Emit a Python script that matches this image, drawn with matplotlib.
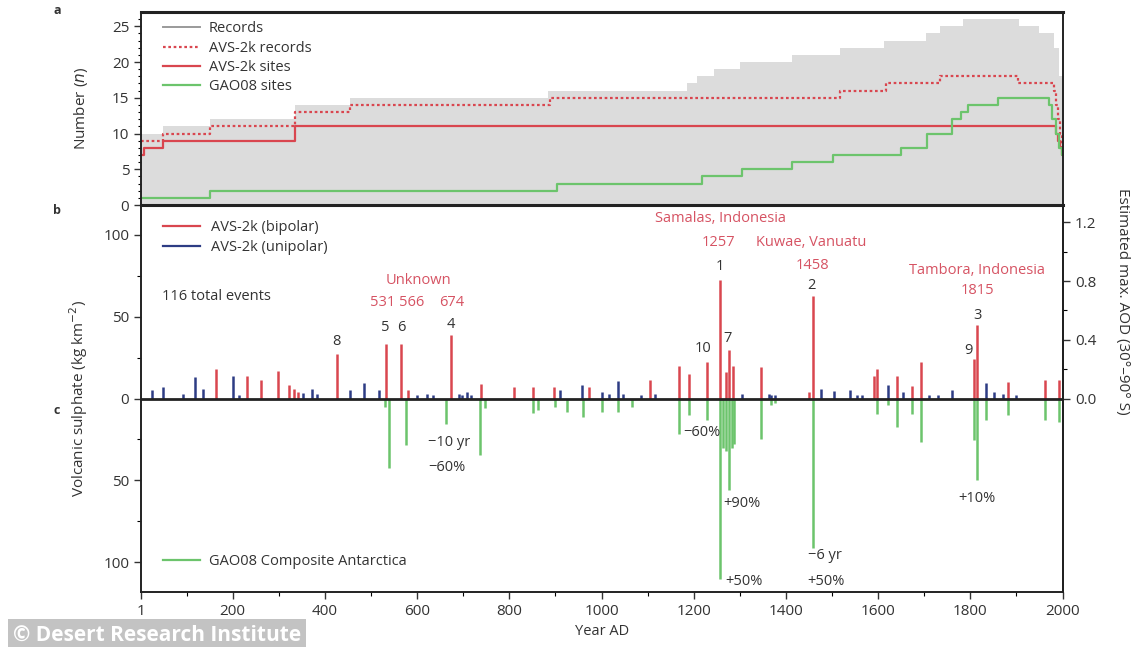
import matplotlib
matplotlib.use("Agg")
import matplotlib.pyplot as plt
from matplotlib.lines import Line2D
from matplotlib.ticker import FuncFormatter

plt.rcParams['font.family'] = ['Open Sans', 'DejaVu Sans']

RED = '#d9464f'
RED_TXT = '#d65363'
BLUE = '#2d3c84'
GREEN = '#6cc46c'
GREY_FILL = '#dcdcdc'
TXT = '#333333'

# ---------------- panel a: number of records / sites (change years, counts)
rec_years = [1, 49, 151, 335, 455, 884, 1186, 1208, 1243, 1300, 1414, 1518, 1612,
             1703, 1735, 1783, 1905, 1948, 1981, 1993]
rec_n = [10, 11, 12, 14, 15, 16, 17, 18, 19, 20, 21, 22, 23, 24, 25, 26, 25, 24, 22, 18]

avs_rec_years = [1, 49, 151, 335, 455, 888, 1518, 1616, 1735, 1903, 1981, 1986, 1990, 1994, 1998]
avs_rec_n = [9, 10, 11, 13, 14, 15, 16, 17, 18, 17, 16, 14, 12, 10, 8]

avs_site_years = [1, 8, 49, 335, 1985, 1990, 1995, 1998]
avs_site_n = [7, 8, 9, 11, 10, 9, 8, 7]

gao_site_years = [1, 151, 904, 1218, 1305, 1414, 1503, 1649, 1707, 1761, 1779, 1796,
                  1859, 1970, 1978, 1985, 1992, 1998]
gao_site_n = [1, 2, 3, 4, 5, 6, 7, 8, 10, 12, 13, 14, 15, 14, 12, 10, 8, 7]

# ---------------- panel b: AVS-2k sulphate deposition (kg km-2)
bipolar_years = [164, 232, 261, 299, 322, 332, 342, 427, 532, 566, 580, 674, 738, 810,
                 851, 896, 972, 1106, 1167, 1189, 1229, 1257, 1269, 1276, 1285, 1345,
                 1450, 1458, 1592, 1598, 1641, 1674, 1694, 1808, 1815, 1881, 1963, 1992]
bipolar_flux = [18, 14, 11.5, 16.5, 8, 6, 4, 27, 33.5, 33.5, 5, 38.7, 9, 7,
                7, 7, 7, 11.5, 19.8, 15, 22.3, 72.4, 16, 29.4, 20, 19,
                4, 62.6, 14, 18, 14, 7.4, 22, 24, 44.8, 10, 11, 11]

unipolar_years = [24, 49, 92, 118, 135, 200, 214, 352, 371, 382, 455, 485, 518, 599,
                  621, 634, 690, 698, 708, 716, 910, 957, 1001, 1016, 1036, 1046, 1085,
                  1116, 1305, 1364, 1367, 1376, 1476, 1504, 1540, 1555, 1565, 1621, 1655,
                  1710, 1730, 1760, 1835, 1852, 1870, 1900]
unipolar_flux = [5, 7, 3, 13, 6, 14, 2, 3.5, 6, 2.5, 5, 9.4, 5, 2,
                 2.5, 2, 3, 2, 4, 2, 5, 8, 4, 3, 10.6, 3, 2,
                 3, 3, 3, 2, 2, 6, 4.5, 5, 2, 2, 8, 4,
                 2, 2, 5, 9.6, 4, 3, 2]

# ---------------- panel c: GAO08 composite Antarctica (kg km-2, drawn downward)
gao_years = [531, 540, 576, 663, 737, 747, 851, 862, 898, 926, 960, 1001, 1036, 1065,
             1167, 1189, 1229, 1258, 1264, 1270, 1276, 1282, 1287, 1345, 1367, 1376,
             1458, 1598, 1621, 1641, 1674, 1694, 1808, 1815, 1835, 1881, 1963, 1992]
gao_flux = [5, 42.6, 28.5, 15.5, 34.5, 6, 9, 7, 5, 8, 11, 8, 8, 5,
            21.4, 10, 13, 110, 30, 32, 56, 30, 28, 24.4, 4, 3,
            91, 9.3, 4, 17.4, 9.3, 26.5, 25.5, 49.7, 13.3, 10.3, 13.3, 14.3]

AOD_PER_FLUX = 1 / 89.5

W, H = 1134, 647
fig = plt.figure(figsize=(W / 100, H / 100), dpi=100)


def px_axes(x0, y0, x1, y1):
    return fig.add_axes([x0 / W, 1 - y1 / H, (x1 - x0) / W, (y1 - y0) / H])


axa = px_axes(141, 12, 1063, 205)
axb = px_axes(141, 205, 1063, 592)

XMIN, XMAX = 1, 2001


def steps(years, vals):
    return list(years) + [2000], list(vals) + [vals[-1]]


# ---- panel a
rx, ry = steps(rec_years, rec_n)
axa.fill_between(rx, 0, ry, step='post', color=GREY_FILL, lw=0)
ax_, ay_ = steps(avs_rec_years, avs_rec_n)
axa.step(ax_, ay_, where='post', color=RED, lw=1.6, ls=(0, (1.2, 1.2)))
sx, sy = steps(avs_site_years, avs_site_n)
axa.step(sx, sy, where='post', color=RED, lw=1.6)
gx, gy = steps(gao_site_years, gao_site_n)
axa.step(gx, gy, where='post', color=GREEN, lw=1.6)

axa.set_xlim(XMIN, XMAX)
axa.set_ylim(0, 27)
axa.set_yticks(range(0, 26, 5))
axa.set_yticks(range(0, 27), minor=True)
axa.tick_params(axis='x', bottom=False, labelbottom=False)
axa.tick_params(axis='y', labelsize=11, length=5, width=1, colors=TXT, labelcolor=TXT)
axa.tick_params(axis='y', which='minor', length=2.5, width=0.8)
for s in axa.spines.values():
    s.set_linewidth(1.4)
    s.set_color('#222222')
axa.spines['top'].set_linewidth(2.2)
axa.set_ylabel('Number ($n$)', fontsize=11, color=TXT)
axa.yaxis.set_label_coords(-0.055, 0.5)

leg_a = [Line2D([], [], color='#9a9a9a', lw=1.4),
         Line2D([], [], color=RED, lw=1.6, ls=(0, (1.2, 1.2))),
         Line2D([], [], color=RED, lw=1.6),
         Line2D([], [], color=GREEN, lw=1.6)]
axa.legend(leg_a, ['Records', 'AVS-2k records', 'AVS-2k sites', 'GAO08 sites'],
           loc='upper left', bbox_to_anchor=(0.01, 1.02), frameon=False,
           fontsize=10.5, handlelength=2.5, handletextpad=0.6, labelspacing=0.3,
           labelcolor=TXT)

# ---- panels b and c
axb.vlines(unipolar_years, 0, unipolar_flux, color=BLUE, lw=1.8)
axb.vlines(bipolar_years, 0, bipolar_flux, color=RED, lw=1.8)
axb.vlines(gao_years, 0, [-v for v in gao_flux], color=GREEN, lw=1.8)
axb.axhline(0, color='#222222', lw=2)

axb.set_xlim(XMIN, XMAX)
axb.set_ylim(-118, 118)
axb.set_yticks([-100, -50, 0, 50, 100])
axb.set_yticks([-75, -25, 25, 75], minor=True)
axb.yaxis.set_major_formatter(FuncFormatter(lambda v, p: f'{abs(v):.0f}'))
axb.set_xticks([1] + list(range(200, 2001, 200)))
axb.set_xticks(list(range(100, 2000, 200)), minor=True)
axb.tick_params(labelsize=11, length=5, width=1, colors=TXT, labelcolor=TXT)
axb.tick_params(which='minor', length=3, width=0.8)
for s in axb.spines.values():
    s.set_linewidth(1.4)
    s.set_color('#222222')
axb.spines['top'].set_linewidth(2.2)
axb.set_xlabel('Year AD', fontsize=10.5, color=TXT, labelpad=4)
axb.set_ylabel('Volcanic sulphate (kg km$^{-2}$)', fontsize=11, color=TXT)
axb.yaxis.set_label_coords(-0.055, 0.5)

ax2 = axb.secondary_yaxis('right', functions=(lambda s: s * AOD_PER_FLUX,
                                              lambda a: a / AOD_PER_FLUX))
ax2.set_yticks([0.0, 0.4, 0.8, 1.2])
ax2.set_yticks([0.2, 0.6, 1.0], minor=True)
ax2.yaxis.set_major_formatter(FuncFormatter(lambda v, p: f'{v:.1f}'))
ax2.tick_params(labelsize=11, length=5, width=1, colors=TXT, labelcolor=TXT)
ax2.tick_params(which='minor', length=3, width=0.8)
ax2.spines['right'].set_linewidth(1.4)
fig.text(1123 / W, 1 - 301 / H, 'Estimated max. AOD (30°–90° S)', rotation=-90,
         ha='center', va='center', fontsize=11, color=TXT)

leg_b = [Line2D([], [], color=RED, lw=1.6), Line2D([], [], color=BLUE, lw=1.6)]
lb = axb.legend(leg_b, ['AVS-2k (bipolar)', 'AVS-2k (unipolar)'], loc='upper left',
                bbox_to_anchor=(0.01, 0.995), frameon=False, fontsize=10.5,
                handlelength=2.5, handletextpad=0.8, labelspacing=0.35, labelcolor=TXT)
axb.add_artist(lb)
axb.legend([Line2D([], [], color=GREEN, lw=1.6)], ['GAO08 Composite Antarctica'],
           loc='lower left', bbox_to_anchor=(0.01, 0.025), frameon=False, fontsize=10.5,
           handlelength=2.5, handletextpad=0.6, labelcolor=TXT)

axb.text(47, 62.4, '116 total events', fontsize=10.5, color=TXT, va='center', ha='left')

# eruption names and years
red_txt = [(602, 72, 'Unknown'), (557, 58.7, '531 566'), (676, 58.7, '674'),
           (1258, 109.5, 'Samalas, Indonesia'), (1253, 95.4, '1257'),
           (1455, 95.4, 'Kuwae, Vanuatu'), (1458, 81.3, '1458'),
           (1814, 78.3, 'Tambora, Indonesia'), (1816, 66, '1815')]
for x, y, t in red_txt:
    axb.text(x, y, t, color=RED_TXT, fontsize=10.5, ha='center', va='center')

# rank numbers of the largest events
ranks = [(426, 35, '8'), (531, 43, '5'), (566, 43, '6'), (674, 45, '4'),
         (1256, 80.7, '1'), (1221, 30.6, '10'), (1273, 36.7, '7'),
         (1455, 69, '2'), (1816, 50.8, '3'), (1796, 29.4, '9')]
for x, y, t in ranks:
    axb.text(x, y, t, color=TXT, fontsize=10.5, ha='center', va='center')

# GAO08 timing / magnitude differences
diffs = [(624, -26.9, '−10 yr'), (624, -42.2, '−60%'), (1177, -20.8, '−60%'),
         (1264, -64.2, '+90%'), (1269, -111.3, '+50%'), (1447, -96, '−6 yr'),
         (1447, -111.3, '+50%'), (1774, -61.2, '+10%')]
for x, y, t in diffs:
    axb.text(x, y, t, color=TXT, fontsize=10.5, ha='left', va='center')

# panel letters
for y, t in [(10, 'a'), (210, 'b'), (410, 'c')]:
    fig.text(57 / W, 1 - y / H, t, fontsize=9, fontweight='bold', color=TXT,
             ha='center', va='center')

fig.text(13 / W, 1 - 635 / H, '© Desert Research Institute', fontsize=15,
         fontweight='bold', color='white', ha='left', va='center',
         bbox=dict(boxstyle='square,pad=0.25', fc='#bdbdbd', ec='none', alpha=0.9))

fig.savefig('out.png', dpi=100)
